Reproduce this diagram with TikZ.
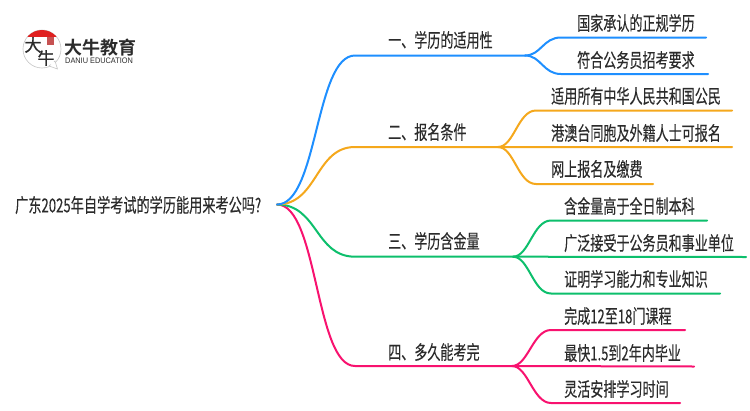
\documentclass[tikz,border=0pt]{standalone}
\usepackage{graphicx}
\usepackage{fontspec}
\setmainfont{Liberation Sans}
\newfontfamily\cjk[FakeBold=0.25]{Noto Sans CJK SC}
\newfontfamily\cjkb{Noto Sans CJK SC Bold}
\newfontfamily\cjkr[FakeBold=1]{Noto Sans CJK SC}
\definecolor{cblue}{HTML}{1E8FFF}
\definecolor{corange}{HTML}{F5A81C}
\definecolor{cgreen}{HTML}{0DBF6C}
\definecolor{cpink}{HTML}{F8126F}
\definecolor{ctext}{HTML}{2B2B2B}
\definecolor{cred}{HTML}{E02020}
\newcommand{\sq}[1]{\scalebox{0.68}[1]{\fontsize{19.2pt}{22pt}\cjk #1}}
\tikzset{
  lbl/.style={anchor=west,inner sep=0pt,text=ctext},
  link/.style={line width=2pt,line cap=round},
}
\usetikzlibrary{calc}
\newcommand{\leaf}[4]{\draw[link,draw=#1] (#2) .. controls ($(#2)+(16,0)$) and ($(#3)+(-18,0)$) .. (#3) -- (#4);}
\begin{document}
\begin{tikzpicture}[x=1pt,y=-1pt]
\useasboundingbox (0,0) rectangle (750,410);
\fill[white] (0,0) rectangle (750,410);
% logo
\draw[gray!45,line width=0.6pt,fill=white] (42,49) circle[radius=19];
\fill[white,draw=gray!45,line width=0.6pt] (49,66) -- (57.5,69) -- (55,61) -- cycle;
\fill[white] (50,64) -- (55.5,67) -- (54,61.5) -- (51,61) -- cycle;
\begin{scope}
\clip (23,29) rectangle (61,36.5);
\fill[cred] (42,49) circle[radius=19];
\end{scope}
\fill[cred!80!black,opacity=.75] (47,37) rectangle (54,45);
\node[inner sep=0pt,text=ctext] (logoa) at (33,45) {\cjkr\fontsize{17pt}{17pt}\selectfont 大};
\node[inner sep=0pt,text=ctext] (logob) at (46,58) {\cjkr\fontsize{17pt}{17pt}\selectfont 牛};
\node[lbl] (logot) at (64,47.5) {\cjkb\fontsize{18pt}{18pt}\selectfont 大牛教育};
\node[lbl] (logoe) at (65,60.5) {\scalebox{0.92}[1]{\fontsize{8pt}{9pt}\selectfont DANIU EDUCATION}};
% texts
\node[lbl] (root) at (15,205) {\scalebox{1.008}[1]{\sq{广东2025年自学考试的学历能用来考公吗?}}};
\node[lbl] (b1) at (388,40) {\sq{一、学历的适用性}};
\node[lbl] (b2) at (388,132) {\sq{二、报名条件}};
\node[lbl] (b3) at (388,241) {\sq{三、学历含金量}};
\node[lbl] (b4) at (388,352) {\sq{四、多久能考完}};
\node[lbl] (l11) at (577,23) {\sq{国家承认的正规学历}};
\node[lbl] (l12) at (577,60) {\sq{符合公务员招考要求}};
\node[lbl] (l21) at (551,96) {\sq{适用所有中华人民共和国公民}};
\node[lbl] (l22) at (551,133) {\sq{港澳台同胞及外籍人士可报名}};
\node[lbl] (l23) at (551,169) {\sq{网上报名及缴费}};
\node[lbl] (l31) at (564,206) {\sq{含金量高于全日制本科}};
\node[lbl] (l32) at (564,243) {\sq{广泛接受于公务员和事业单位}};
\node[lbl] (l33) at (564,279) {\sq{证明学习能力和专业知识}};
\node[lbl] (l41) at (564,316) {\sq{完成12至18门课程}};
\node[lbl] (l42) at (564,353) {\sq{最快1.5到2年内毕业}};
\node[lbl] (l43) at (564,389) {\sq{灵活安排学习时间}};
% coordinates
\coordinate (s) at (277,204.5);
\foreach \n/\x/\y in {a1/355/55.5,e1/525/55.5,a2/355/147,e2/498/147,a3/355/256.7,e3/513/256.7,a4/355/366,e4/512/366,
 p11/561/37.5,q11/706/37.5,p12/561/74,q12/708/74,
 p21/536/110.5,q21/732/110.5,p22/536/147,q22/732/147,p23/536/184,q23/653/184,
 p31/551/220.5,q31/707/220.5,p32/551/257,q32/746/257,p33/551/293.5,q33/720/293.5,
 p41/551/330,q41/685/330,p42/551/366.5,q42/694/366.5,p43/551/403,q43/680/403}
  {\coordinate (\n) at (\x,\y);}
% pink
\draw[link,draw=cpink] (s) .. controls +(41,0) and ($(a4)+(-40,0)$) .. (a4) -- (e4) -- (q42);
\leaf{cpink}{e4}{p41}{q41}\leaf{cpink}{e4}{p43}{q43}
% green
\draw[link,draw=cgreen] (s) .. controls +(41,0) and ($(a3)+(-40,0)$) .. (a3) -- (e3) -- (q32);
\leaf{cgreen}{e3}{p31}{q31}\leaf{cgreen}{e3}{p33}{q33}
% orange
\draw[link,draw=corange] (s) .. controls +(41,0) and ($(a2)+(-40,0)$) .. (a2) -- (e2) -- (q22);
\leaf{corange}{e2}{p21}{q21}\leaf{corange}{e2}{p23}{q23}
% blue
\draw[link,draw=cblue] (s) .. controls +(41,0) and ($(a1)+(-40,0)$) .. (a1) -- (e1);
\leaf{cblue}{e1}{p11}{q11}\leaf{cblue}{e1}{p12}{q12}
\end{tikzpicture}
\end{document}
